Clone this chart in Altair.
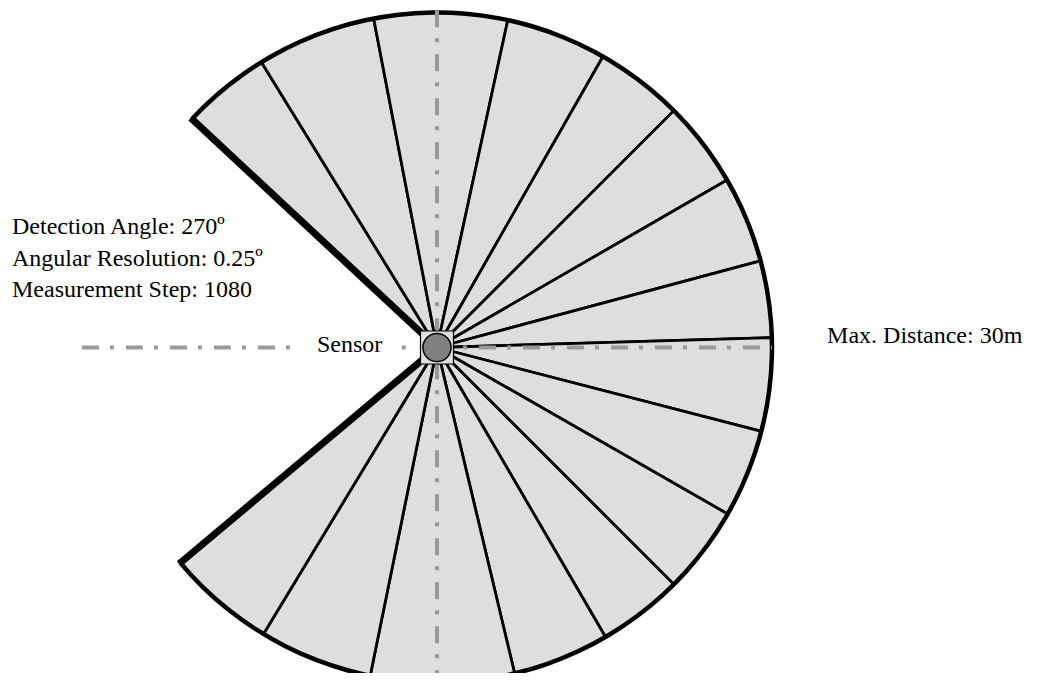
import math
import altair as alt
import pandas as pd

# ---------------- data (chart units: metres / degrees) ----------------
# boundaries of the scan sectors, degrees counter-clockwise from the +x axis
boundary_angles_deg = [137, 121.6, 100.9, 77.8, 60.3, 45, 30, 15, 1.7,
                       -14.5, -29.8, -45, -59.8, -76.6, -101.5, -121.2, -140]
max_distance_m = 30

info_lines = ["Detection Angle: 270º", "Angular Resolution: 0.25º", "Measurement Step: 1080"]
info_x_m = [-38.06, -38.06, -38.06]
info_y_m = [10.16, 7.34, 4.52]
side_labels = ["Sensor", "Max. Distance: 30m"]
side_x_m = [-10.75, 34.93]
side_y_m = [-0.40, 0.40]

# dash-dot reference axes (metres)
h_left_x = [-31.8, -13.1]
h_dot_x = [-3.15, -2.8]
h_right_x = [1.43, 30.0]
v_axis_y = [30.2, -31.0]

# ---------------- layout ----------------
W, H = 1023, 665
PX = 335 / 30.0          # pixels per metre
CX, CY = 429, 339.5      # sensor position inside the plot area (px)

xs = alt.Scale(domain=[-CX / PX, (W - CX) / PX], zero=False, nice=False)
ys = alt.Scale(domain=[-(H - CY) / PX, CY / PX], zero=False, nice=False)
rs = alt.Scale(type="linear", domain=[0, max_distance_m], range=[0, max_distance_m * PX])
ts = alt.Scale(domain=[0, 360], range=[0, 2 * math.pi], zero=False, nice=False)

GRAY_FILL = "#dedede"
DASH_COL = "#999999"

# sectors
wedges = pd.DataFrame({
    "a0": boundary_angles_deg[:-1],
    "a1": boundary_angles_deg[1:],
})
wedges["r"] = max_distance_m
wedges["cx"] = 0.0
wedges["cy"] = 0.0

wedge_layer = alt.Chart(wedges).transform_calculate(
    t0="90 - datum.a0", t1="90 - datum.a1"
).mark_arc(fill=GRAY_FILL, stroke="black", strokeWidth=2.8).encode(
    x=alt.X("cx:Q", scale=xs, axis=None),
    y=alt.Y("cy:Q", scale=ys, axis=None),
    theta=alt.Theta("t0:Q", scale=ts, stack=False),
    theta2=alt.Theta2("t1:Q"),
    radius=alt.Radius("r:Q", scale=rs),
)

# outer boundary ring
ring = pd.DataFrame({
    "a0": [boundary_angles_deg[0]],
    "a1": [boundary_angles_deg[-1]],
    "r": [max_distance_m + 0.2],
    "r2": [max_distance_m - 0.2],
    "cx": [0.0],
    "cy": [0.0],
})
ring_layer = alt.Chart(ring).transform_calculate(
    t0="90 - datum.a0", t1="90 - datum.a1"
).mark_arc(fill="black").encode(
    x=alt.X("cx:Q", scale=xs, axis=None),
    y=alt.Y("cy:Q", scale=ys, axis=None),
    theta=alt.Theta("t0:Q", scale=ts, stack=False),
    theta2=alt.Theta2("t1:Q"),
    radius=alt.Radius("r:Q", scale=rs),
    radius2=alt.Radius2("r2:Q"),
)

# thick edges of the detection fan
edges = pd.DataFrame({
    "a": [boundary_angles_deg[0], boundary_angles_deg[-1]],
    "r": [max_distance_m + 0.15, max_distance_m + 0.15],
    "x0": [0.0, 0.0],
    "y0": [0.0, 0.0],
})
edge_layer = alt.Chart(edges).transform_calculate(
    x1="datum.r * cos(datum.a * PI / 180)",
    y1="datum.r * sin(datum.a * PI / 180)",
).mark_rule(color="black", strokeWidth=7, strokeCap="butt").encode(
    x=alt.X("x0:Q", scale=xs, axis=None),
    y=alt.Y("y0:Q", scale=ys, axis=None),
    x2="x1:Q",
    y2="y1:Q",
)


def hline(xr, offset):
    df = pd.DataFrame({"x0": [xr[0]], "x1": [xr[1]], "y0": [0.0]})
    return alt.Chart(df).mark_rule(
        color=DASH_COL, strokeWidth=4, strokeDash=[17, 11, 4, 12], strokeDashOffset=offset
    ).encode(
        x=alt.X("x0:Q", scale=xs, axis=None),
        x2="x1:Q",
        y=alt.Y("y0:Q", scale=ys, axis=None),
    )


h_left = hline(h_left_x, 0)
h_right = hline(h_right_x, 18)
h_dot = alt.Chart(pd.DataFrame({"x0": [h_dot_x[0]], "x1": [h_dot_x[1]], "y0": [0.0]})).mark_rule(
    color=DASH_COL, strokeWidth=4
).encode(
    x=alt.X("x0:Q", scale=xs, axis=None),
    x2="x1:Q",
    y=alt.Y("y0:Q", scale=ys, axis=None),
)

v_df = pd.DataFrame({"x0": [0.0], "y0": [v_axis_y[0]], "y1": [v_axis_y[1]]})
v_axis = alt.Chart(v_df).mark_rule(
    color=DASH_COL, strokeWidth=4, strokeDash=[17, 11, 4, 12]
).encode(
    x=alt.X("x0:Q", scale=xs, axis=None),
    y=alt.Y("y0:Q", scale=ys, axis=None),
    y2="y1:Q",
)

# sensor symbol
sensor = pd.DataFrame({"cx": [0.0], "cy": [0.0]})
sensor_box = alt.Chart(sensor).mark_point(
    shape="square", filled=True, fill=GRAY_FILL, stroke="black", strokeWidth=1.2,
    size=1089, opacity=1
).encode(
    x=alt.X("cx:Q", scale=xs, axis=None),
    y=alt.Y("cy:Q", scale=ys, axis=None),
)
sensor_dot = alt.Chart(sensor).mark_point(
    shape="circle", filled=True, fill="#808080", stroke="black", strokeWidth=1.5,
    size=790, opacity=1
).encode(
    x=alt.X("cx:Q", scale=xs, axis=None),
    y=alt.Y("cy:Q", scale=ys, axis=None),
)

# texts
texts = pd.DataFrame({
    "label": info_lines + side_labels,
    "tx": info_x_m + side_x_m,
    "ty": info_y_m + side_y_m,
})
text_layer = alt.Chart(texts).mark_text(
    font="Liberation Serif", fontSize=24, align="left", baseline="alphabetic", color="black"
).encode(
    x=alt.X("tx:Q", scale=xs, axis=None),
    y=alt.Y("ty:Q", scale=ys, axis=None),
    text="label:N",
)

chart = alt.layer(
    wedge_layer, edge_layer, ring_layer,
    h_left, h_dot, h_right, v_axis,
    sensor_box, sensor_dot, text_layer,
).properties(
    width=W, height=H, padding=0,
    autosize=alt.AutoSizeParams(type="none"),
).configure_view(strokeWidth=0)

chart.save("out.html", embed_options={"renderer": "svg", "actions": False})
